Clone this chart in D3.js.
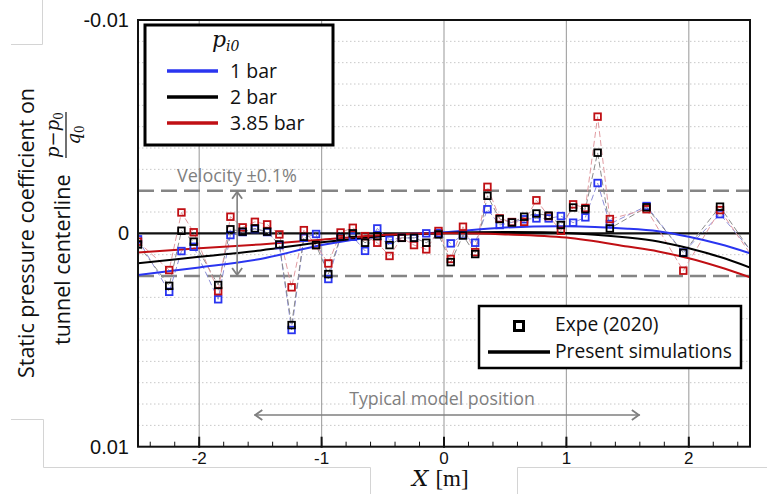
<!DOCTYPE html>
<html><head><meta charset="utf-8">
<script src="https://cdn.jsdelivr.net/npm/d3@7"></script>
<style>
html,body{margin:0;padding:0;background:#fff;}
svg{display:block;}
</style></head>
<body>
<svg id="c" width="767" height="494"></svg>
<script>
// ---------- DATA (Cp values in units of 1e-3) ----------
const expeX = [-2.5,-2.245,-2.145,-2.045,-1.845,-1.745,-1.645,-1.545,-1.445,-1.345,-1.245,-1.145,-1.045,-0.945,-0.845,-0.745,-0.645,-0.545,-0.445,-0.345,-0.245,-0.145,-0.045,0.055,0.155,0.255,0.355,0.455,0.555,0.655,0.755,0.855,0.955,1.055,1.155,1.255,1.355,1.655,1.955,2.255,2.55];
const expe1bar = [0.28,2.74,0.83,0.63,3.09,0.08,-0.06,-0.2,-0.06,0.55,4.53,0.21,0.03,2.14,0.17,0.16,0.82,-0.23,0.31,0.21,0.22,0.0,-0.01,0.47,0.08,0.44,-1.13,-0.39,-0.51,-0.66,-0.70,-0.70,-0.81,-0.50,-0.75,-2.36,-0.44,-1.28,0.90,-0.90,1.1];
const expe2bar = [0.52,2.46,-0.12,0.39,2.42,-0.19,-0.08,-0.23,-0.08,0.52,4.30,0.16,0.55,1.91,0.16,0.0,0.44,0.13,0.55,0.21,0.21,0.44,0.05,1.35,0.10,0.97,-1.76,-0.67,-0.51,-0.78,-0.93,-0.83,-0.39,-1.21,-1.13,-3.78,-0.23,-1.22,0.91,-1.25,1.2];
const expe385bar = [0.39,1.72,-0.98,-0.05,2.71,-0.78,-0.28,-0.54,-0.42,0.05,2.53,-0.15,0.55,1.41,-0.04,-0.26,0.13,0.44,1.06,0.21,0.55,0.75,-0.11,1.2,-0.31,0.88,-2.18,-0.70,-0.53,-0.54,-1.55,-0.81,-0.12,-1.36,-1.19,-5.47,-0.67,-1.13,1.75,-1.09,1.35];

const simX = [-2.5,-2,-1.5,-1,-0.5,0,0.5,1,1.5,1.75,2,2.25,2.5];
const sim1bar = [1.95,1.6,1.2,0.55,0.12,-0.05,-0.27,-0.33,-0.22,-0.1,0.16,0.5,0.93];
const sim2bar = [1.4,1.1,0.8,0.42,0.12,-0.02,-0.06,-0.02,0.2,0.38,0.7,1.1,1.6];
const sim385bar = [0.9,0.7,0.52,0.3,0.08,0.0,0.05,0.2,0.62,0.85,1.17,1.58,2.06];

const seriesNames = ["1 bar","2 bar","3.85 bar"];
const seriesColors = ["#2a35f0","#000000","#c00f14"];
const connectorColors = ["#8c8ed8","#8a8a8a","#e09aa0"];

const xTicks = [-2,-1,0,1,2];
const xTickLabels = ["-2","-1","0","1","2"];
const xMinorTicks = d3.range(-2.4,2.5,0.2);
const yTicks = [-10,0,10];
const yTickLabels = ["-0.01","0","0.01"];
const yGridDotted = [-9,-8,-7,-6,-5,-4,-3,-1,1,3,4,5,6,7,8,9];
const velocityBand = [-2,2];

// ---------- LAYOUT ----------
const svg = d3.select("#c");
const L = 138, R = 750, T = 20, B = 446.7;
const x = d3.scaleLinear().domain([-2.5,2.5]).range([L,R]);
const y = d3.scaleLinear().domain([-10,10]).range([T,B]);

// background artifact lines (screenshot panel edges)
const art = svg.append("g").attr("stroke","#d4d4d4").attr("fill","none").attr("stroke-width",1);
art.append("path").attr("d","M11,44.5H42.5V0");
art.append("path").attr("d","M11,419.5H43.5V467.5H370.5V494");
art.append("path").attr("d","M767,467.5H517.5V494");

svg.append("defs").append("clipPath").attr("id","clip")
  .append("rect").attr("x",L).attr("y",T).attr("width",R-L).attr("height",B-T);

// dotted minor grid
svg.append("g").selectAll("line").data(yGridDotted).join("line")
  .attr("x1",L).attr("x2",R).attr("y1",d=>y(d)).attr("y2",d=>y(d))
  .attr("stroke","#c8c8c8").attr("stroke-width",1).attr("stroke-dasharray","1.5,2.5");

// vertical grid
svg.append("g").selectAll("line").data(xTicks).join("line")
  .attr("x1",d=>x(d)).attr("x2",d=>x(d)).attr("y1",T).attr("y2",B)
  .attr("stroke","#a8a8a8").attr("stroke-width",1.2);

// velocity band dashed lines
svg.append("g").selectAll("line").data(velocityBand).join("line")
  .attr("x1",L).attr("x2",R).attr("y1",d=>y(d)).attr("y2",d=>y(d))
  .attr("stroke","#858585").attr("stroke-width",2.6).attr("stroke-dasharray","16,7");

// zero line
svg.append("line").attr("x1",L).attr("x2",R).attr("y1",y(0)).attr("y2",y(0))
  .attr("stroke","#111").attr("stroke-width",2.2);

const plot = svg.append("g").attr("clip-path","url(#clip)");
const expeSets = [expe1bar, expe2bar, expe385bar];
const simSets = [sim1bar, sim2bar, sim385bar];

// dashed connectors
expeSets.forEach((s,i)=>{
  const line = d3.line().x((d,j)=>x(expeX[j])).y(d=>y(d));
  plot.append("path").datum(s).attr("d",line).attr("fill","none")
    .attr("stroke",connectorColors[i]).attr("stroke-width",1).attr("stroke-dasharray","6,3");
});

// simulation curves
simSets.forEach((s,i)=>{
  const line = d3.line().curve(d3.curveCatmullRom).x((d,j)=>x(simX[j])).y(d=>y(d));
  plot.append("path").datum(s).attr("d",line).attr("fill","none")
    .attr("stroke",seriesColors[i]).attr("stroke-width",2);
});

// markers
[0,2,1].forEach(i=>{
  plot.append("g").selectAll("rect").data(expeSets[i]).join("rect")
    .attr("x",(d,j)=>x(expeX[j])-3.3).attr("y",d=>y(d)-3.3)
    .attr("width",6.6).attr("height",6.6).attr("fill","none")
    .attr("stroke",seriesColors[i]).attr("stroke-width",1.8);
});

// frame
svg.append("rect").attr("x",L).attr("y",T).attr("width",R-L).attr("height",B-T)
  .attr("fill","none").attr("stroke","#111").attr("stroke-width",2);

// ticks
svg.append("g").selectAll("line").data(xMinorTicks).join("line")
  .attr("x1",d=>x(d)).attr("x2",d=>x(d)).attr("y1",B).attr("y2",B-5)
  .attr("stroke","#111").attr("stroke-width",1);
svg.append("g").selectAll("line").data(xTicks).join("line")
  .attr("x1",d=>x(d)).attr("x2",d=>x(d)).attr("y1",B+1).attr("y2",B-10)
  .attr("stroke","#111").attr("stroke-width",2);

const tickFont = "'Liberation Sans', Arial, sans-serif";
svg.append("g").selectAll("text").data(xTicks).join("text")
  .attr("x",d=>x(d)).attr("y",B+17).attr("text-anchor","middle")
  .attr("font-family",tickFont).attr("font-size",17).attr("fill","#111")
  .text((d,i)=>xTickLabels[i]);
svg.append("g").selectAll("text").data(yTicks).join("text")
  .attr("x",L-9).attr("y",d=>y(d)+7).attr("text-anchor","end")
  .attr("font-family",tickFont).attr("font-size",20).attr("fill","#111")
  .text((d,i)=>yTickLabels[i]);

// X axis label
const xl = svg.append("text").attr("x",412).attr("y",486).attr("fill","#111");
xl.append("tspan").attr("font-family","'DejaVu Serif', serif").attr("font-style","italic").attr("font-size",23).text("X");
xl.append("tspan").attr("font-family","'Liberation Serif', serif").attr("font-size",23).attr("dx",7).text("[m]");

// Y axis label
const sans = "'Open Sans', 'Noto Sans', sans-serif";
svg.append("text").attr("transform","translate(34,233) rotate(-90)")
  .attr("text-anchor","middle").attr("font-family",sans).attr("font-size",21.5).attr("fill","#111")
  .text("Static pressure coefficient on");
const yl2 = svg.append("g").attr("transform","translate(63,345) rotate(-90)");
yl2.append("text").attr("x",0).attr("y",7).attr("font-family",sans).attr("font-size",21.5).attr("fill","#111")
  .text("tunnel centerline");
const fr = yl2.append("g").attr("font-family","'DejaVu Serif', serif").attr("font-style","italic").attr("fill","#111");
const num = fr.append("text").attr("x",210).attr("y",-4).attr("text-anchor","middle").attr("font-size",18);
num.append("tspan").text("p");
num.append("tspan").attr("font-style","normal").text("\u2212");
num.append("tspan").text("p");
num.append("tspan").attr("font-style","normal").attr("font-size",12).attr("dy",4).text("0");
yl2.append("line").attr("x1",187).attr("x2",233).attr("y1",3).attr("y2",3).attr("stroke","#111").attr("stroke-width",1.2);
const den = fr.append("text").attr("x",210).attr("y",17).attr("text-anchor","middle").attr("font-size",18);
den.append("tspan").text("q");
den.append("tspan").attr("font-style","normal").attr("font-size",12).attr("dy",4).text("0");

// annotations
const grayTxt = "#7f7f7f";
svg.append("text").attr("x",177).attr("y",182).attr("font-family",sans).attr("font-size",18)
  .attr("fill",grayTxt).text("Velocity \u00b10.1%");
const ax = x(-1.69);
svg.append("line").attr("x1",ax).attr("x2",ax).attr("y1",y(-2)+1).attr("y2",y(2)-1)
  .attr("stroke","#7f7f7f").attr("stroke-width",1.6);
svg.append("path").attr("d",`M${ax-5},${y(-2)+8}L${ax},${y(-2)+1}L${ax+5},${y(-2)+8}M${ax-5},${y(2)-8}L${ax},${y(2)-1}L${ax+5},${y(2)-8}`)
  .attr("fill","none").attr("stroke","#7f7f7f").attr("stroke-width",1.8);

svg.append("text").attr("x",442).attr("y",405).attr("text-anchor","middle").attr("font-family",sans).attr("font-size",17.8)
  .attr("fill",grayTxt).text("Typical model position");
const hy = 415, hx1 = x(-1.55), hx2 = x(1.6);
svg.append("line").attr("x1",hx1).attr("x2",hx2).attr("y1",hy).attr("y2",hy)
  .attr("stroke","#7f7f7f").attr("stroke-width",1.6);
svg.append("path").attr("d",`M${hx1+8},${hy-5}L${hx1+1},${hy}L${hx1+8},${hy+5}M${hx2-8},${hy-5}L${hx2-1},${hy}L${hx2-8},${hy+5}`)
  .attr("fill","none").attr("stroke","#7f7f7f").attr("stroke-width",1.8);

// legend 1
const lg1 = svg.append("g");
lg1.append("rect").attr("x",145).attr("y",25).attr("width",188).attr("height",120)
  .attr("fill","#fff").attr("stroke","#000").attr("stroke-width",3);
const lt = lg1.append("text").attr("x",212).attr("y",47).attr("font-family","'DejaVu Serif', serif").attr("font-style","italic").attr("fill","#111");
lt.append("tspan").attr("font-size",22).text("p");
lt.append("tspan").attr("font-size",14).attr("dy",4).text("i0");
seriesNames.forEach((n,i)=>{
  const yy = 71 + i*26;
  lg1.append("line").attr("x1",167).attr("x2",218).attr("y1",yy).attr("y2",yy)
    .attr("stroke",seriesColors[i]).attr("stroke-width",3.5);
  lg1.append("text").attr("x",230).attr("y",yy+7).attr("font-family",sans).attr("font-size",19.5).attr("fill","#111").text(n);
});

// legend 2
const lg2 = svg.append("g");
lg2.append("rect").attr("x",479).attr("y",306).attr("width",262).attr("height",62)
  .attr("fill","#fff").attr("stroke","#000").attr("stroke-width",2.5);
lg2.append("rect").attr("x",514.5).attr("y",321.5).attr("width",9).attr("height",9)
  .attr("fill","none").attr("stroke","#000").attr("stroke-width",3);
lg2.append("line").attr("x1",488).attr("x2",550).attr("y1",352).attr("y2",352).attr("stroke","#000").attr("stroke-width",3.5);
lg2.append("text").attr("x",555).attr("y",331).attr("font-family",sans).attr("font-size",19.2).attr("fill","#111").text("Expe (2020)");
lg2.append("text").attr("x",555).attr("y",358).attr("font-family",sans).attr("font-size",19.2).attr("fill","#111").text("Present simulations");
</script>
</body></html>
